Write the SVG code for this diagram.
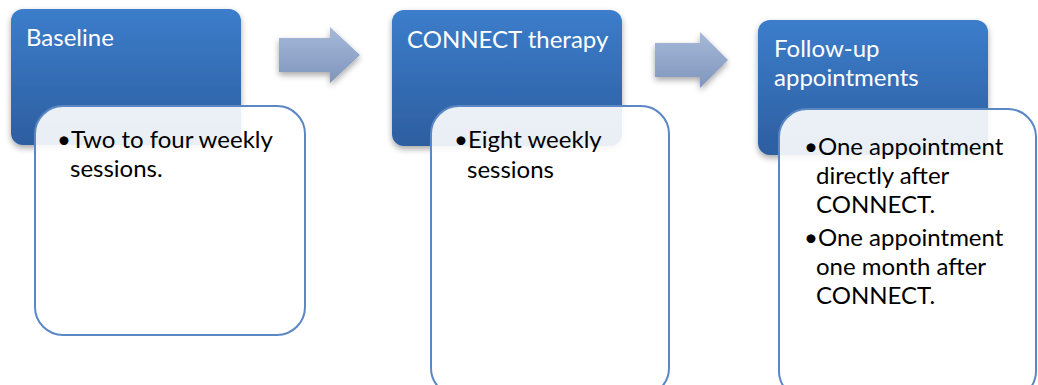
<svg xmlns="http://www.w3.org/2000/svg" width="1038" height="385" viewBox="0 0 1038 385">
<defs>
<linearGradient id="gBlue" x1="0" y1="0" x2="0" y2="1">
<stop offset="0" stop-color="#3C7DCB"/>
<stop offset="1" stop-color="#2D5EA0"/>
</linearGradient>
<linearGradient id="gArrow" x1="0" y1="0" x2="0" y2="1">
<stop offset="0" stop-color="#A6B9DA"/>
<stop offset="1" stop-color="#7F95BB"/>
</linearGradient>
<filter id="sh" x="-10%" y="-10%" width="130%" height="130%">
<feGaussianBlur in="SourceAlpha" stdDeviation="3"/>
<feOffset dx="0" dy="3" result="b"/>
<feComponentTransfer><feFuncA type="linear" slope="0.35"/></feComponentTransfer>
<feMerge><feMergeNode/><feMergeNode in="SourceGraphic"/></feMerge>
</filter>
</defs>
<style>
.head{fill:url(#gBlue);filter:url(#sh)}
.body{fill:#fff;fill-opacity:0.9;stroke:#5B87C4;stroke-width:2}
.arr{fill:url(#gArrow);filter:url(#sh)}
.ht{font-family:Lato,"Open Sans",sans-serif;font-size:24px;fill:#fff}
.bt{font-family:Lato,"Open Sans",sans-serif;font-size:24px;fill:#000}
</style>
<g id="connectors">
<path class="arr" d="M279,38 H330 V27 L360,55 L330,83 V72 H279 Z"/>
<path class="arr" d="M655,43 H700 V32 L728,60 L700,88 V77 H655 Z"/>
</g>
<g id="baseline">
<rect class="head" x="11" y="9" width="230" height="136" rx="12"/>
<text class="ht" x="26" y="46">Baseline</text>
</g>
<g id="baseline-details">
<rect class="body" x="35" y="106" width="270" height="229" rx="28"/>
<text class="bt"><tspan x="57" y="148">•Two to four weekly</tspan><tspan x="70" y="177">sessions.</tspan></text>
</g>
<g id="connect">
<rect class="head" x="392" y="10" width="230" height="136" rx="12"/>
<text class="ht" x="407" y="48">CONNECT therapy</text>
</g>
<g id="connect-details">
<rect class="body" x="431" y="106" width="238" height="290" rx="28"/>
<text class="bt"><tspan x="454" y="148">•Eight weekly</tspan><tspan x="467" y="178">sessions</tspan></text>
</g>
<g id="followup">
<rect class="head" x="758" y="20" width="230" height="135" rx="12"/>
<text class="ht"><tspan x="774" y="57">Follow-up</tspan><tspan x="774" y="86">appointments</tspan></text>
</g>
<g id="followup-details">
<rect class="body" x="779" y="109" width="257" height="290" rx="28"/>
<text class="bt"><tspan x="804" y="155">•One appointment</tspan><tspan x="816" y="184">directly after</tspan><tspan x="816" y="213">CONNECT.</tspan><tspan x="804" y="246">•One appointment</tspan><tspan x="816" y="275">one month after</tspan><tspan x="816" y="304">CONNECT.</tspan></text>
</g>
</svg>
